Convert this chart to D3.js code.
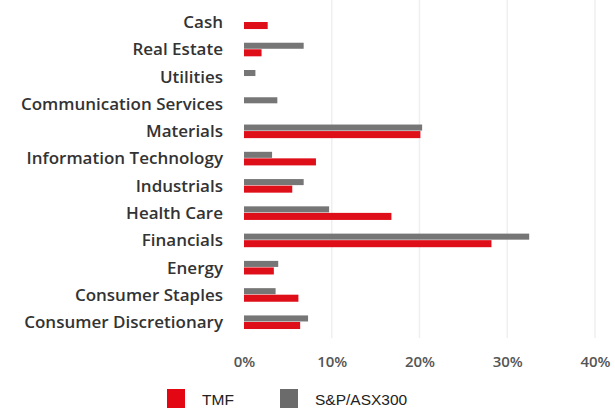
<!DOCTYPE html>
<html><head><meta charset="utf-8">
<script src="https://cdn.jsdelivr.net/npm/d3@7/dist/d3.min.js"></script>
<style>html,body{margin:0;padding:0;background:#fff;}svg{display:block;}</style>
</head><body>
<svg id="c" width="615" height="408"></svg>
<script>
const categories = ["Cash","Real Estate","Utilities","Communication Services","Materials","Information Technology","Industrials","Health Care","Financials","Energy","Consumer Staples","Consumer Discretionary"];
const tmf = [2.7,2.0,0,0,20.1,8.2,5.5,16.8,28.2,3.4,6.2,6.4];
const asx300 = [0,6.8,1.3,3.8,20.3,3.2,6.8,9.7,32.5,3.9,3.6,7.3];
const tickValues = [0,10,20,30,40];
const seriesNames = ["TMF","S&P/ASX300"];
const seriesColors = ["#df0f19","#767676"];

const svg = d3.select("#c");
const x = d3.scaleLinear().domain([0,40]).range([244,595]);
const step = 27.27;
const y = d3.scaleBand().domain(categories).range([22 - step/2, 22 + step*(categories.length-0.5)]).paddingInner(0.52).paddingOuter(0.26);
const sub = d3.scaleBand().domain(["asx","tmf"]).range([0, y.bandwidth()]);

// gridlines
svg.append("g").selectAll("line").data(tickValues.filter(d=>d>0)).join("line")
  .attr("x1",d=>x(d)).attr("x2",d=>x(d)).attr("y1",0).attr("y2",338)
  .attr("stroke","#efefef").attr("stroke-width",1.5);

// category labels
const labelFont = "'Open Sans', sans-serif";
const lab = svg.append("g").attr("font-family",labelFont).attr("font-weight","600").attr("fill","#333");
const labels = lab.selectAll("text").data(categories).join("text")
  .attr("x",223).attr("y",d=>y(d)+y.bandwidth()/2).attr("dy","0.36em")
  .attr("text-anchor","end").attr("font-size",10).text(d=>d);
let maxW = 0; labels.each(function(){ maxW = Math.max(maxW,this.getComputedTextLength()); });
const fs = Math.min(17, 10*211/maxW);
labels.attr("font-size",fs);

// bars
const g = svg.append("g");
categories.forEach((c,i)=>{
  g.append("rect").attr("x",x(0)).attr("y",y(c)+sub("asx")).attr("width",x(asx300[i])-x(0)).attr("height",sub.bandwidth()-0.5).attr("fill",seriesColors[1]);
  g.append("rect").attr("x",x(0)).attr("y",y(c)+sub("tmf")).attr("width",x(tmf[i])-x(0)).attr("height",sub.bandwidth()+0.5).attr("fill",seriesColors[0]);
});

// x axis
const ax = d3.axisBottom(x).tickValues(tickValues).tickFormat(d=>d+"%").tickSize(0).tickPadding(0);
const axg = svg.append("g").attr("transform","translate(0,356)").call(ax);
axg.select(".domain").remove();
axg.selectAll("text").attr("font-family",labelFont).attr("font-weight","600").attr("font-size",15).attr("fill","#555").attr("dy","0.71em").attr("y",0);

// legend
const lg = svg.append("g");
const lx = [167,280];
seriesNames.forEach((n,i)=>{
  lg.append("rect").attr("x",lx[i]).attr("y",389).attr("width",18).attr("height",19).attr("fill",i===0?"#e30613":"#6b6b6b");
  lg.append("text").attr("x",lx[i]+35).attr("y",404.5).attr("font-family","'Liberation Sans', Arial, sans-serif").attr("font-size",15.5).attr("fill","#222").text(n);
});
</script>
</body></html>
